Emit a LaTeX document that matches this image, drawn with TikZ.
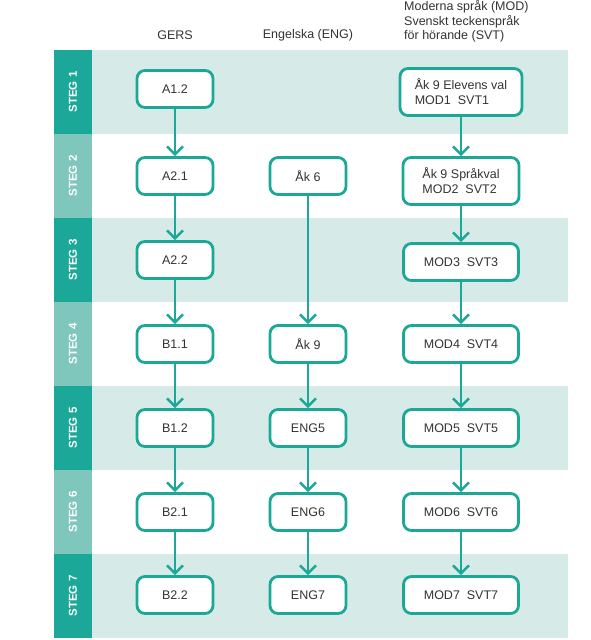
\documentclass[tikz,border=0pt]{standalone}
\usepackage{fontspec}
\setmainfont{Liberation Sans}
\usetikzlibrary{arrows.meta}
\definecolor{tealdark}{HTML}{1BA898}
\definecolor{teallight}{HTML}{7FC6BD}
\definecolor{band}{HTML}{D6EBE8}
\definecolor{txt}{HTML}{333333}
\tikzset{
  stepbox/.style={draw=tealdark, line width=2.8pt, rounded corners=8pt, fill=white,
    minimum width=76pt, minimum height=37pt, font=\fontsize{12.5}{15}\selectfont, text=txt, inner sep=2pt},
  modbox/.style={stepbox, minimum width=115pt},
  modbig/.style={stepbox, minimum width=122pt, minimum height=47pt, align=left},
  flow/.style={draw=tealdark, line width=2.8pt, -{Straight Barb[length=8pt,width=16pt,line width=2.4pt]}},
  steglbl/.style={rotate=90, text=white, font=\fontsize{11.5}{13}\selectfont\bfseries},
  head/.style={font=\fontsize{12.5}{15}\selectfont, text=txt, inner sep=0pt},
}
\begin{document}
\begin{tikzpicture}[x=1pt,y=-1pt]
\useasboundingbox (0,0) rectangle (591,640);
\fill[white] (0,0) rectangle (591,640);
% bands
\foreach \i in {1,3,5,7} {
  \fill[band] (92,{50+84*(\i-1)}) rectangle (568,{50+84*\i});
}
\foreach \i in {1,...,7} {
  \ifodd\i
    \fill[tealdark] (54,{50+84*(\i-1)}) rectangle (92,{50+84*\i});
  \else
    \fill[teallight] (54,{50+84*(\i-1)}) rectangle (92,{50+84*\i});
  \fi
  \node[steglbl] (s\i) at (73,{50+84*(\i-0.5)}) {STEG \i};
}
% headers
\node[head] (hg) at (175,35) {GERS};
\node[head] (he) at (308,35) {Engelska (ENG)};
\node[head, anchor=west] (hm1) at (404,7) {Moderna språk (MOD)};
\node[head, anchor=west] (hm2) at (404,21.5) {Svenskt teckenspråk};
\node[head, anchor=west] (hm3) at (404,36) {för hörande (SVT)};
% GERS column
\node[stepbox] (g1) at (175,89) {A1.2};
\node[stepbox] (g2) at (175,176) {A2.1};
\node[stepbox] (g3) at (175,260) {A2.2};
\node[stepbox] (g4) at (175,344) {B1.1};
\node[stepbox] (g5) at (175,428) {B1.2};
\node[stepbox] (g6) at (175,512) {B2.1};
\node[stepbox] (g7) at (175,595) {B2.2};
% ENG column
\node[stepbox] (e2) at (308,176) {Åk 6};
\node[stepbox] (e4) at (308,344) {Åk 9};
\node[stepbox] (e5) at (308,428) {ENG5};
\node[stepbox] (e6) at (308,512) {ENG6};
\node[stepbox] (e7) at (308,595) {ENG7};
% MOD column
\node[modbig] (m1) at (461,92) {Åk 9 Elevens val\\MOD1\ \ SVT1};
\node[modbig, minimum width=116pt] (m2) at (461,181) {Åk 9 Språkval\\MOD2\ \ SVT2};
\node[modbox] (m3) at (461,262) {MOD3\ \ SVT3};
\node[modbox] (m4) at (461,344) {MOD4\ \ SVT4};
\node[modbox] (m5) at (461,428) {MOD5\ \ SVT5};
\node[modbox] (m6) at (461,512) {MOD6\ \ SVT6};
\node[modbox] (m7) at (461,595) {MOD7\ \ SVT7};
% arrows
\foreach \a/\b in {g1/g2,g2/g3,g3/g4,g4/g5,g5/g6,g6/g7,e2/e4,e4/e5,e5/e6,e6/e7,m1/m2,m2/m3,m3/m4,m4/m5,m5/m6,m6/m7} {
  \draw[flow] (\a.south) -- (\b.north);
}
\end{tikzpicture}
\end{document}
